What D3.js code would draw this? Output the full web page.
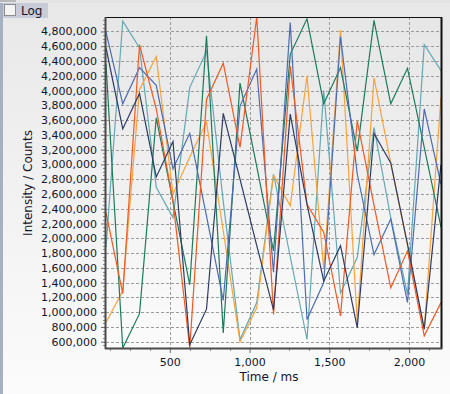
<!DOCTYPE html>
<html>
<head>
<meta charset="utf-8">
<script src="https://cdn.jsdelivr.net/npm/d3@7"></script>
<style>
  body { margin: 0; background: #f0f0f0; }
  svg { display: block; font-family: "DejaVu Sans", sans-serif; }
  .tickLabel { font-size: 11px; fill: #14142a; }
  .axisTitle { font-size: 12px; fill: #14142a; }
</style>
</head>
<body>
<svg id="chart"></svg>
<script>
// time of every sample (ms)
const times = [100, 205, 310, 415, 520, 625, 730, 835, 940, 1045, 1150,
  1255, 1360, 1465, 1570, 1675, 1780, 1885, 1990, 2095, 2200];

// intensities
const blueSeries = [4790000, 3820000, 4310000, 4070000, 2940000, 3420000, 2300000, 1160000, 3790000, 4290000, 1540000,
  4920000, 900000, 1400000, 4730000, 2870000, 1780000, 2260000, 1130000, 3750000, 2730000];
const navySeries = [4580000, 3480000, 3960000, 2830000, 3310000, 560000, 1040000, 3690000, 2800000, 1900000, 1030000,
  3680000, 2460000, 1420000, 1900000, 790000, 3420000, 3020000, 1920000, 770000, 3000000];
const tealSeries = [1880000, 4940000, 4580000, 2690000, 2280000, 4040000, 4530000, 2500000, 630000, 1130000, 2870000,
  1750000, 630000, 4000000, 1260000, 1740000, 3500000, 2280000, 1240000, 4620000, 4270000];
const greenSeries = [4360000, 515000, 980000, 3630000, 2500000, 1370000, 4740000, 720000, 4100000, 2970000, 1830000,
  4490000, 4970000, 3820000, 4310000, 3180000, 4950000, 3820000, 4300000, 3230000, 2150000];
const redSeries = [2350000, 1250000, 4620000, 3750000, 2500000, 520000, 3880000, 4370000, 3230000, 4995000, 970000,
  4330000, 2460000, 2080000, 950000, 3590000, 2450000, 1330000, 1830000, 680000, 1130000];
const orangeSeries = [860000, 1290000, 4010000, 4460000, 2600000, 3100000, 3570000, 2100000, 600000, 1060000, 2850000,
  2440000, 4200000, 1580000, 4820000, 860000, 4170000, 3020000, 1900000, 770000, 3910000];

const xTicks = [500, 1000, 1500, 2000];
const yTicks = [600000, 800000, 1000000, 1200000, 1400000, 1600000, 1800000, 2000000, 2200000, 2400000, 2600000,
  2800000, 3000000, 3200000, 3400000, 3600000, 3800000, 4000000, 4200000, 4400000, 4600000, 4800000];

const series = [
  { values: tealSeries, color: '#63a9b3' },
  { values: orangeSeries, color: '#f8a33c' },
  { values: greenSeries, color: '#1c7b5c' },
  { values: blueSeries, color: '#4c6cb2' },
  { values: redSeries, color: '#f15a22' },
  { values: navySeries, color: '#2e3b63' },
];

const width = 450;
const height = 394;
const margin = { top: 17, right: 9, bottom: 46, left: 106 };

const svg = d3.select('#chart')
  .attr('width', width)
  .attr('height', height);

const defs = svg.append('defs');
const bgGrad = defs.append('linearGradient')
  .attr('id', 'bgGrad').attr('x1', 0).attr('y1', 0).attr('x2', 0).attr('y2', 1);
bgGrad.append('stop').attr('offset', '0%').attr('stop-color', '#e8e8e8');
bgGrad.append('stop').attr('offset', '100%').attr('stop-color', '#fbfbfb');
const plotGrad = defs.append('linearGradient')
  .attr('id', 'plotGrad').attr('x1', 0).attr('y1', 0).attr('x2', 0).attr('y2', 1);
plotGrad.append('stop').attr('offset', '0%').attr('stop-color', '#e6e6e6');
plotGrad.append('stop').attr('offset', '100%').attr('stop-color', '#fbfbfb');

// panel background
svg.append('rect')
  .attr('width', width).attr('height', height)
  .attr('fill', 'url(#bgGrad)');

// toolbar with the Log checkbox
svg.append('rect').attr('x', 0).attr('y', 0).attr('width', width).attr('height', 3).attr('fill', '#e4e4e4');
svg.append('rect').attr('x', 0).attr('y', 0).attr('width', 16).attr('height', 2).attr('fill', '#b9b9b9');
svg.append('rect').attr('x', 0).attr('y', 3).attr('width', 3).attr('height', height).attr('fill', '#a7afc3');
svg.append('rect').attr('x', 3).attr('y', 3).attr('width', 45).attr('height', 15).attr('fill', '#c8ccd8');
svg.append('rect').attr('x', 4.5).attr('y', 4.5).attr('width', 11).attr('height', 11)
  .attr('fill', '#f4f4f4').attr('stroke', '#8d8d8d');
svg.append('text').attr('x', 21).attr('y', 14.5).attr('class', 'axisTitle').text('Log');

const innerW = width - margin.left - margin.right;
const innerH = height - margin.top - margin.bottom;

const x = d3.scaleLinear()
  .domain(d3.extent(times))
  .range([margin.left, margin.left + innerW]);

const allValues = series.flatMap((s) => s.values);
const y = d3.scaleLinear()
  .domain(d3.extent(allValues))
  .range([margin.top + innerH, margin.top]);

// plot area
svg.append('rect')
  .attr('x', margin.left).attr('y', margin.top)
  .attr('width', innerW).attr('height', innerH)
  .attr('fill', 'url(#plotGrad)');

// grid
const grid = svg.append('g')
  .attr('stroke', '#9c9c9c')
  .attr('stroke-dasharray', '3,2');
grid.selectAll('.hgrid')
  .data(yTicks)
  .enter()
  .append('line')
  .attr('x1', margin.left).attr('x2', margin.left + innerW)
  .attr('y1', (d) => Math.round(y(d)) + 0.5).attr('y2', (d) => Math.round(y(d)) + 0.5);
grid.selectAll('.vgrid')
  .data(xTicks)
  .enter()
  .append('line')
  .attr('y1', margin.top).attr('y2', margin.top + innerH)
  .attr('x1', (d) => Math.round(x(d)) + 0.5).attr('x2', (d) => Math.round(x(d)) + 0.5);

// lines
const clip = defs.append('clipPath').attr('id', 'plotClip');
clip.append('rect')
  .attr('x', margin.left).attr('y', margin.top - 1)
  .attr('width', innerW).attr('height', innerH + 2);

const line = d3.line()
  .x((d, i) => x(times[i]))
  .y((d) => y(d));

svg.append('g')
  .attr('clip-path', 'url(#plotClip)')
  .selectAll('path')
  .data(series)
  .enter()
  .append('path')
  .attr('d', (d) => line(d.values))
  .attr('fill', 'none')
  .attr('stroke', (d) => d.color)
  .attr('stroke-width', 1.2)
  .attr('stroke-linejoin', 'miter');

// y axis
const yAxis = d3.axisLeft(y)
  .tickValues(yTicks)
  .tickSize(5)
  .tickPadding(4)
  .tickFormat(d3.format(','));
const yAxisG = svg.append('g')
  .attr('transform', `translate(${margin.left},0)`)
  .call(yAxis);
yAxisG.select('.domain').remove();
yAxisG.selectAll('line').attr('stroke', '#6a6a6a');
yAxisG.selectAll('text').attr('class', 'tickLabel');
yAxisG.attr('font-family', null).attr('font-size', null);

const yMinor = d3.range(550000, 5000000, 50000).filter((v) => v % 200000 !== 0);
svg.append('g')
  .selectAll('line')
  .data(yMinor)
  .enter()
  .append('line')
  .attr('x1', margin.left - 3).attr('x2', margin.left)
  .attr('y1', (d) => Math.round(y(d)) + 0.5).attr('y2', (d) => Math.round(y(d)) + 0.5)
  .attr('stroke', '#8a8a8a');

// x axis
const xAxis = d3.axisBottom(x)
  .tickValues(xTicks)
  .tickSize(5)
  .tickPadding(5)
  .tickFormat(d3.format(','));
const xAxisG = svg.append('g')
  .attr('transform', `translate(0,${margin.top + innerH})`)
  .call(xAxis);
xAxisG.select('.domain').remove();
xAxisG.selectAll('line').attr('stroke', '#6a6a6a');
xAxisG.selectAll('text').attr('class', 'tickLabel');
xAxisG.attr('font-family', null).attr('font-size', null);

const xMinor = d3.range(125, 2200, 125).filter((v) => v % 500 !== 0);
svg.append('g')
  .selectAll('line')
  .data(xMinor)
  .enter()
  .append('line')
  .attr('y1', margin.top + innerH).attr('y2', margin.top + innerH + 3)
  .attr('x1', (d) => Math.round(x(d)) + 0.5).attr('x2', (d) => Math.round(x(d)) + 0.5)
  .attr('stroke', '#8a8a8a');

// frame
const plotLeft = margin.left;
const plotRight = margin.left + innerW;
const plotTop = margin.top;
const plotBottom = margin.top + innerH;
svg.append('line').attr('x1', plotLeft).attr('x2', plotRight + 1).attr('y1', plotTop + 0.5).attr('y2', plotTop + 0.5)
  .attr('stroke', '#111');
svg.append('line').attr('x1', plotRight + 0.5).attr('x2', plotRight + 0.5).attr('y1', plotTop).attr('y2', plotBottom)
  .attr('stroke', '#111').attr('stroke-width', 2);
svg.append('line').attr('x1', plotLeft - 0.5).attr('x2', plotLeft - 0.5).attr('y1', plotTop).attr('y2', plotBottom + 1)
  .attr('stroke', '#4a4a4a').attr('stroke-width', 2);
svg.append('line').attr('x1', plotLeft - 1).attr('x2', plotRight + 1.5).attr('y1', plotBottom + 0.5).attr('y2', plotBottom + 0.5)
  .attr('stroke', '#4a4a4a').attr('stroke-width', 2);

// axis titles
svg.append('text')
  .attr('class', 'axisTitle')
  .attr('text-anchor', 'middle')
  .attr('x', 269)
  .attr('y', 381)
  .text('Time / ms');

svg.append('text')
  .attr('class', 'axisTitle')
  .attr('text-anchor', 'middle')
  .attr('transform', 'translate(32,183) rotate(-90)')
  .text('Intensity / Counts');
</script>
</body>
</html>
